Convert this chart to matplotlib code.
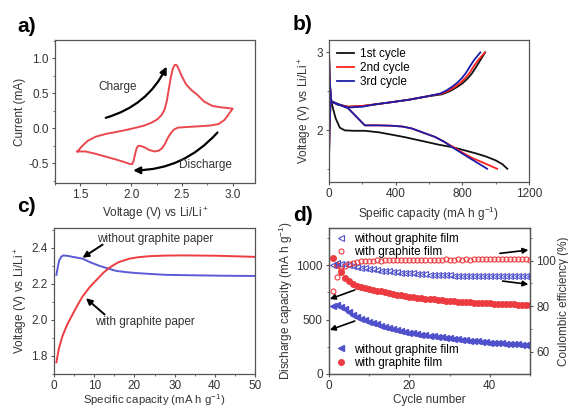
import matplotlib
matplotlib.use("Agg")
import matplotlib.pyplot as plt
from matplotlib.lines import Line2D
from matplotlib.ticker import MultipleLocator

plt.rcParams["font.family"] = ["Liberation Sans", "DejaVu Sans"]
plt.rcParams["font.size"] = 8.5
plt.rcParams["axes.edgecolor"] = "#555555"
plt.rcParams["axes.linewidth"] = 0.9
plt.rcParams["xtick.color"] = "#555555"
plt.rcParams["ytick.color"] = "#555555"
plt.rcParams["xtick.labelcolor"] = "#333333"
plt.rcParams["ytick.labelcolor"] = "#333333"
plt.rcParams["xtick.labelsize"] = 8.5
plt.rcParams["ytick.labelsize"] = 8.5
plt.rcParams["xtick.major.size"] = 2.5
plt.rcParams["ytick.major.size"] = 2.5
plt.rcParams["xtick.minor.size"] = 1.5
plt.rcParams["ytick.minor.size"] = 1.5
plt.rcParams["xtick.major.pad"] = 2
plt.rcParams["ytick.major.pad"] = 2
plt.rcParams["axes.labelcolor"] = "#333333"
plt.rcParams["mathtext.default"] = "regular"

# ---- a) cyclic voltammetry
cv_up_v = [1.47, 1.52, 1.57, 1.65, 1.75, 1.86, 1.96, 2.05, 2.13, 2.20, 2.26, 2.30, 2.33, 2.35,
           2.37, 2.39, 2.41, 2.43, 2.45, 2.47, 2.50, 2.54, 2.59, 2.65, 2.72, 2.80, 2.88, 2.95, 3.00]
cv_up_i = [-0.33, -0.25, -0.18, -0.12, -0.08, -0.05, -0.02, 0.01, 0.04, 0.08, 0.13, 0.19, 0.27, 0.38,
           0.55, 0.72, 0.85, 0.905, 0.90, 0.84, 0.74, 0.63, 0.55, 0.48, 0.38, 0.32, 0.30, 0.29, 0.28]
cv_down_v = [3.00, 2.96, 2.92, 2.86, 2.78, 2.68, 2.56, 2.46, 2.42, 2.39, 2.36, 2.33, 2.30, 2.27, 2.23,
             2.18, 2.13, 2.09, 2.07, 2.055, 2.04, 2.025, 2.01, 1.99, 1.93, 1.84, 1.74, 1.64, 1.55, 1.49, 1.47]
cv_down_i = [0.28, 0.20, 0.12, 0.06, 0.04, 0.03, 0.02, 0.01, -0.02, -0.07, -0.14, -0.23, -0.29, -0.32, -0.33,
             -0.31, -0.27, -0.25, -0.25, -0.28, -0.36, -0.46, -0.51, -0.51, -0.48, -0.44, -0.40, -0.36, -0.33, -0.33, -0.33]

# ---- b) charge / discharge profiles
dis1_cap = [0, 5, 14, 25, 40, 65, 95, 150, 215, 300, 376, 450, 577, 660, 738, 810, 879, 940, 999, 1040, 1070]
dis1_v = [3.0, 2.6, 2.37, 2.27, 2.15, 2.03, 1.995, 1.99, 1.99, 1.97, 1.94, 1.91, 1.85, 1.81, 1.78, 1.74,
          1.70, 1.66, 1.61, 1.56, 1.50]
dis2_cap = [0, 5, 14, 60, 115, 165, 215, 300, 376, 440, 497, 560, 637, 690, 738, 800, 859, 935, 1009]
dis2_v = [3.0, 2.6, 2.37, 2.33, 2.28, 2.17, 2.06, 2.06, 2.055, 2.045, 2.02, 1.97, 1.91, 1.85, 1.79, 1.71,
          1.64, 1.57, 1.50]
dis3_cap = [0, 5, 14, 60, 115, 165, 215, 300, 376, 440, 497, 560, 637, 690, 738, 790, 850, 900, 949]
dis3_v = [3.0, 2.6, 2.37, 2.33, 2.28, 2.17, 2.06, 2.06, 2.055, 2.045, 2.02, 1.97, 1.91, 1.85, 1.78, 1.71,
          1.63, 1.565, 1.50]
chg1_cap = [0, 3, 8, 14, 50, 115, 200, 276, 380, 478, 580, 678, 725, 765, 800, 830, 858, 882, 905, 937]
chg1_v = [1.62, 2.0, 2.3, 2.37, 2.33, 2.30, 2.31, 2.33, 2.36, 2.39, 2.43, 2.46, 2.50, 2.55, 2.60, 2.66,
          2.73, 2.81, 2.89, 3.0]
chg2_cap = [0, 3, 8, 14, 50, 115, 200, 276, 380, 478, 580, 678, 720, 758, 790, 818, 845, 868, 895, 935]
chg2_v = [1.62, 2.0, 2.3, 2.37, 2.33, 2.30, 2.31, 2.33, 2.36, 2.39, 2.43, 2.47, 2.51, 2.56, 2.61, 2.67,
          2.74, 2.82, 2.90, 3.0]
chg3_cap = [0, 3, 8, 14, 50, 115, 200, 276, 380, 478, 580, 668, 705, 740, 770, 798, 823, 846, 870, 908]
chg3_v = [1.62, 2.0, 2.3, 2.37, 2.33, 2.29, 2.30, 2.33, 2.36, 2.39, 2.43, 2.47, 2.51, 2.56, 2.61, 2.67,
          2.74, 2.82, 2.90, 3.0]

# ---- c) initial charge voltage
c_blue_cap = [0.6, 1.0, 1.3, 1.8, 2.3, 3.5, 4.6, 7.1, 9.0, 11.3, 13.5, 15.5, 18.0, 20.5, 24.0, 28.0,
              36.4, 43.0, 49.8]
c_blue_v = [2.25, 2.30, 2.33, 2.35, 2.358, 2.355, 2.35, 2.34, 2.32, 2.30, 2.285, 2.272, 2.265, 2.26,
            2.255, 2.25, 2.247, 2.245, 2.244]
c_red_cap = [0.6, 1.2, 2.1, 3.2, 4.6, 5.8, 7.1, 8.8, 10.5, 12.2, 13.8, 16.0, 18.8, 21.0, 23.9, 28.0,
             32.2, 40.6, 49.8]
c_red_v = [1.765, 1.84, 1.91, 1.97, 2.03, 2.08, 2.13, 2.18, 2.22, 2.26, 2.29, 2.32, 2.34, 2.348, 2.354,
           2.357, 2.358, 2.356, 2.35]

# ---- d) cycling
cycles = list(range(1, 51))
cap_without = [625, 632, 618, 592, 566, 543, 524, 508, 493, 480,
               468, 456, 445, 435, 425, 415, 405, 396, 388, 380,
               373, 367, 361, 356, 350, 345, 340, 336, 331, 327,
               323, 319, 315, 311, 307, 303, 299, 295, 291, 288,
               285, 282, 280, 278, 276, 274, 272, 270, 268, 266]
cap_with = [1065, 1000, 935, 885, 850, 826, 809, 797, 787, 779,
            772, 765, 758, 750, 743, 736, 729, 722, 716, 710,
            705, 700, 696, 692, 688, 684, 680, 676, 673, 670,
            667, 664, 662, 660, 658, 656, 654, 652, 650, 648,
            646, 645, 643, 642, 640, 639, 637, 636, 635, 633]
ce_without = [98.2, 98.9, 98.7, 98.4, 98.0, 97.7, 97.3, 97.0, 96.7, 96.4,
              96.2, 95.9, 95.7, 95.5, 95.3, 95.1, 94.9, 94.8, 94.6, 94.5,
              94.4, 94.2, 94.1, 94.0, 93.9, 93.8, 93.7, 93.7, 93.6, 93.6,
              93.5, 93.5, 93.4, 93.4, 93.3, 93.4, 93.3, 93.3, 93.4, 93.3,
              93.4, 93.3, 93.4, 93.5, 93.4, 93.5, 93.4, 93.5, 93.5, 93.5]
ce_with = [86.5, 92.7, 96.0, 97.8, 98.6, 99.1, 99.5, 99.7, 99.9, 100.1,
           100.0, 100.2, 100.1, 100.3, 100.2, 100.3, 100.2, 100.4, 100.3, 100.4,
           100.3, 100.4, 100.5, 100.4, 100.4, 100.5, 100.4, 100.5, 100.6, 100.5,
           100.5, 100.6, 100.5, 100.6, 100.5, 100.6, 100.7, 100.6, 100.6, 100.7,
           100.6, 100.7, 100.6, 100.7, 100.6, 100.7, 100.7, 100.6, 100.7, 100.4]

red = "#ec3b40"
blue_d = "#4f51cc"
W, H = 568, 409


def box(l, t, r, b):
    return [l / W, 1 - b / H, (r - l) / W, (b - t) / H]


fig = plt.figure(figsize=(5.68, 4.09), dpi=100)

# a)
ax = fig.add_axes(box(55, 40, 255, 183))
ax.plot(cv_up_v + cv_down_v, cv_up_i + cv_down_i, color="#e9494e", lw=1.4)
ax.set_xlim(1.25, 3.22)
ax.set_ylim(-0.78, 1.26)
ax.xaxis.set_major_locator(MultipleLocator(0.5))
ax.xaxis.set_minor_locator(MultipleLocator(0.25))
ax.yaxis.set_major_locator(MultipleLocator(0.5))
ax.yaxis.set_minor_locator(MultipleLocator(0.25))
ax.xaxis.set_major_formatter(lambda v, p: f"{v:.1f}")
ax.yaxis.set_major_formatter(lambda v, p: f"{v:.1f}")
ax.set_xlabel("Voltage (V) vs Li/Li$^+$", labelpad=3)
ax.set_ylabel("Current (mA)", labelpad=2)
ax.annotate("", xy=(2.35, 0.88), xytext=(1.75, 0.15),
            arrowprops=dict(arrowstyle="-|>", color="k", lw=1.6, mutation_scale=10,
                            connectionstyle="arc3,rad=0.22", shrinkA=0, shrinkB=0))
ax.annotate("", xy=(2.02, -0.6), xytext=(2.85, -0.06),
            arrowprops=dict(arrowstyle="-|>", color="k", lw=1.6, mutation_scale=10,
                            connectionstyle="arc3,rad=-0.22", shrinkA=0, shrinkB=0))
ax.text(1.87, 0.59, "Charge", ha="center", va="center", fontsize=8.5, color="#333333")
ax.text(2.73, -0.52, "Discharge", ha="center", va="center", fontsize=8.5, color="#333333")

# b)
ax = fig.add_axes(box(329, 40, 529, 182))
ax.plot(dis1_cap, dis1_v, color="#111111", lw=1.3, label="1st cycle")
ax.plot(chg1_cap, chg1_v, color="#111111", lw=1.3)
ax.plot(dis2_cap, dis2_v, color="#ff1f1f", lw=1.3, label="2nd cycle")
ax.plot(chg2_cap, chg2_v, color="#ff1f1f", lw=1.3)
ax.plot(dis3_cap, dis3_v, color="#1c1ca8", lw=1.3, label="3rd cycle")
ax.plot(chg3_cap, chg3_v, color="#1c1ca8", lw=1.3)
ax.set_xlim(0, 1200)
ax.set_ylim(1.33, 3.16)
ax.xaxis.set_major_locator(MultipleLocator(400))
ax.xaxis.set_minor_locator(MultipleLocator(200))
ax.yaxis.set_major_locator(MultipleLocator(1))
ax.yaxis.set_minor_locator(MultipleLocator(0.5))
ax.set_xlabel("Speific capacity (mA h g$^{-1}$)", labelpad=3)
ax.set_ylabel("Voltage (V) vs Li/Li$^+$", labelpad=2)
ax.legend(loc="upper left", frameon=False, fontsize=8.5, handlelength=1.45, handletextpad=0.5,
          labelspacing=0.15, borderaxespad=0.3, bbox_to_anchor=(0.0, 1.0))

# c)
ax = fig.add_axes(box(54, 228, 255, 374))
ax.plot(c_blue_cap, c_blue_v, color="#5a5ad6", lw=1.4)
ax.plot(c_red_cap, c_red_v, color="#ee3c41", lw=1.4)
ax.set_xlim(0, 50)
ax.set_ylim(1.70, 2.51)
ax.xaxis.set_major_locator(MultipleLocator(10))
ax.xaxis.set_minor_locator(MultipleLocator(5))
ax.yaxis.set_major_locator(MultipleLocator(0.2))
ax.yaxis.set_minor_locator(MultipleLocator(0.1))
ax.yaxis.set_major_formatter(lambda v, p: f"{v:.1f}")
ax.tick_params(axis="x", pad=1.5)
ax.set_xlabel("Specific capacity (mA h g$^{-1}$)", va="bottom", fontsize=8.2)
ax.xaxis.set_label_coords(0.5, -(408.5 - 374) / 146)
ax.set_ylabel("Voltage (V) vs Li/Li$^+$", labelpad=2)
ax.annotate("", xy=(7.1, 2.345), xytext=(12.1, 2.418),
            arrowprops=dict(arrowstyle="-|>", color="k", lw=1.4, mutation_scale=9, shrinkA=0, shrinkB=0))
ax.annotate("", xy=(7.95, 2.12), xytext=(12.6, 2.03),
            arrowprops=dict(arrowstyle="-|>", color="k", lw=1.4, mutation_scale=9, shrinkA=0, shrinkB=0))
ax.text(25.1, 2.451, "without graphite paper", ha="center", va="center", fontsize=8.5, color="#333333")
ax.text(22.6, 1.99, "with graphite paper", ha="center", va="center", fontsize=8.5, color="#333333")

# d)
ax = fig.add_axes(box(329, 228, 530, 374))
ax2 = ax.twinx()
ax2.plot(cycles, ce_without, ls="none", marker="<", ms=3.8, mfc="none", mec=blue_d, mew=0.8)
ax2.plot(cycles, ce_with, ls="none", marker="o", ms=3.6, mfc="none", mec=red, mew=0.8)
ax.plot(cycles, cap_with, ls="none", marker="o", ms=4.0, color=red)
ax.plot(cycles, cap_without, ls="none", marker="<", ms=4.2, color=blue_d)
ax.set_xlim(0, 50)
ax.set_ylim(0, 1340)
ax2.set_ylim(50.2, 114.4)
ax.xaxis.set_major_locator(MultipleLocator(20))
ax.xaxis.set_minor_locator(MultipleLocator(10))
ax.yaxis.set_major_locator(MultipleLocator(500))
ax.yaxis.set_minor_locator(MultipleLocator(250))
ax2.yaxis.set_major_locator(MultipleLocator(20))
ax2.yaxis.set_minor_locator(MultipleLocator(10))
ax.set_xlabel("Cycle number", labelpad=1)
ax.set_ylabel("Discharge capacity (mA h g$^{-1}$)", labelpad=1)
ax2.set_ylabel("Coulombic efficiency (%)", labelpad=1)
for (x0, y0, x1, y1) in [(42.5, 1107, 49.6, 1138), (43.2, 853, 49.6, 823),
                         (6.4, 771, 0.2, 688), (6.4, 486, 0.2, 404)]:
    ax2.annotate("", xy=(x1, y1), xytext=(x0, y0), xycoords=ax.transData, textcoords=ax.transData,
                 arrowprops=dict(arrowstyle="-|>", color="k", lw=1.2, mutation_scale=8,
                                 shrinkA=0, shrinkB=0))
top_handles = [Line2D([], [], ls="none", marker="<", ms=3.8, mfc="none", mec=blue_d, mew=0.8),
               Line2D([], [], ls="none", marker="o", ms=3.6, mfc="none", mec=red, mew=0.8)]
bot_handles = [Line2D([], [], ls="none", marker="<", ms=4.2, color=blue_d),
               Line2D([], [], ls="none", marker="o", ms=4.0, color=red)]
names = ["without graphite film", "with graphite film"]
leg = ax2.legend(top_handles, names, loc="upper left", frameon=False, fontsize=8.5,
                 handletextpad=0.5, labelspacing=0.15, borderaxespad=0.0, handlelength=1.2,
                 bbox_to_anchor=(0.0, 1.0))
ax2.add_artist(leg)
ax2.legend(bot_handles, names, loc="lower left", frameon=False, fontsize=8.5,
           handletextpad=0.5, labelspacing=0.15, borderaxespad=0.0, handlelength=1.2,
           bbox_to_anchor=(0.0, 0.0))

for lab, x, y in [("a)", 17, 27), ("b)", 293, 25), ("c)", 17, 207), ("d)", 293, 215)]:
    fig.text(x / W, 1 - y / H, lab, fontsize=15, fontweight="bold", va="center", ha="left")

fig.savefig("out.png", dpi=100)
